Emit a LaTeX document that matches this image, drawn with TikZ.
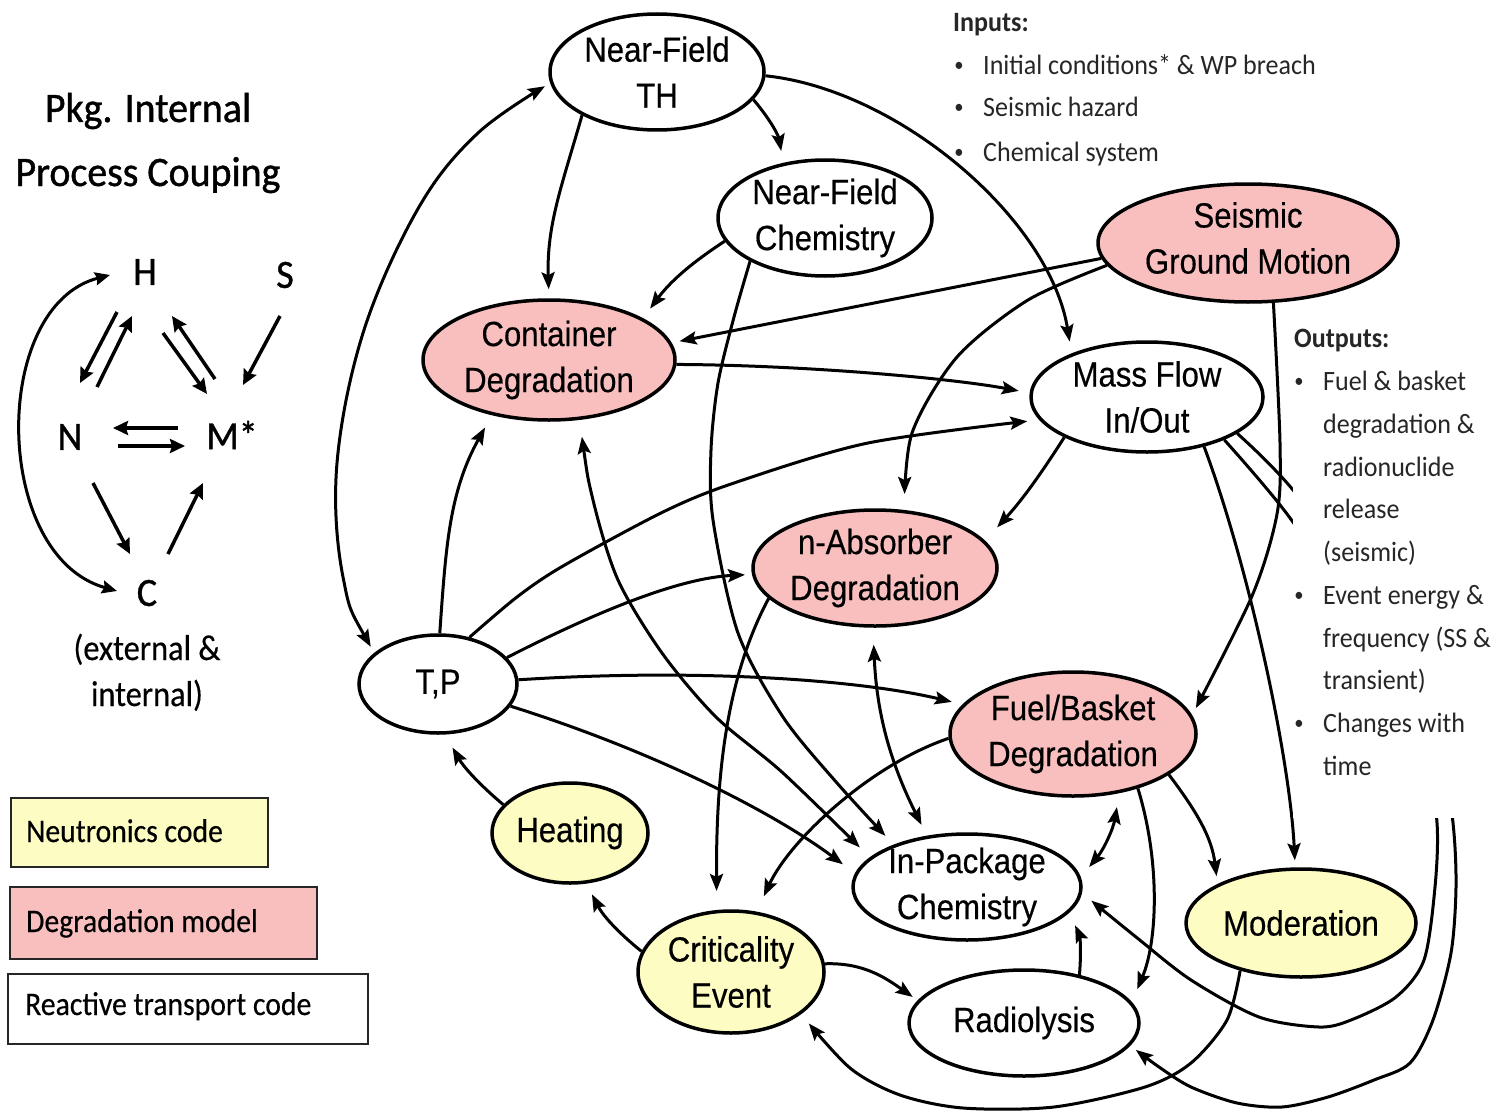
\documentclass[tikz,border=0pt]{standalone}
\usepackage{fontspec}
\usetikzlibrary{arrows.meta,shapes.geometric}
\newfontfamily\arialn[FakeStretch=0.89,FakeBold=0.4]{Liberation Sans}
\newfontfamily\calibA[FakeStretch=0.93]{Carlito}
\newfontfamily\calibB[FakeStretch=0.95,FakeBold=1.0]{Carlito}
\newfontfamily\calibC[FakeStretch=0.90,FakeBold=0.4]{Carlito}
\definecolor{pinkf}{RGB}{249,191,191}
\definecolor{yelf}{RGB}{253,252,194}
\begin{document}
\begin{tikzpicture}[x=1pt,y=-1pt,
  ell/.style={ellipse, draw=black, line width=3.5pt, inner sep=0pt},
  ntext/.style={font=\arialn\fontsize{35}{46}\selectfont, align=center, inner sep=0pt},
  con/.style={line width=3pt, -{Stealth[length=17pt,width=13pt,inset=3pt]}},
  dcon/.style={line width=3pt, {Stealth[length=17pt,width=13pt,inset=3pt]}-{Stealth[length=17pt,width=13pt,inset=3pt]}},
  mcon/.style={line width=3.5pt, -{Stealth[length=15pt,width=14pt,inset=2pt]}},
  mdcon/.style={line width=3pt, {Stealth[length=15pt,width=13pt,inset=2pt]}-{Stealth[length=15pt,width=13pt,inset=2pt]}},
  titlef/.style={font=\calibB\fontsize{42}{50}\selectfont, inner sep=0pt},
  minif/.style={font=\calibB\fontsize{40}{48}\selectfont, inner sep=0pt},
  capf/.style={font=\calibC\fontsize{36}{44}\selectfont, inner sep=0pt},
  legbox/.style={draw=black!85, line width=2pt, inner sep=0pt},
  legf/.style={font=\calibC\fontsize{33}{40}\selectfont, inner sep=0pt},
  iof/.style={font=\calibA\fontsize{28}{34}\selectfont, inner sep=0pt, text=black!85},
  bulf/.style={font=\calibA\fontsize{20}{24}\selectfont, inner sep=0pt, text=black!85}
]
\useasboundingbox (0,0) rectangle (1496,1113);
\fill[white] (0,0) rectangle (1496,1113);

% ---------- left panel ----------
\node[titlef, anchor=base] (t1) at (148,122) {Pkg. Internal};
\node[titlef, anchor=base] (t2) at (148,186) {Process Couping};

\node[minif] (H) at (145,272) {H};
\node[minif] (S) at (285,275) {S};
\node[minif] (N) at (70,437) {N};
\node[minif] (M) at (232,435) {M*};
\node[minif] (C) at (147,593) {C};
\node[capf, anchor=base] (ext1) at (147,660) {(external \&};
\node[capf, anchor=base] (ext2) at (147,706) {internal)};

\draw[mcon] ([shift={(-28,40)}]H.center) -- ([shift={(10,-54)}]N.center);
\draw[mcon] ([shift={(27,-50)}]N.center) -- ([shift={(-13,44)}]H.center);
\draw[mcon] ([shift={(18,61)}]H.center) -- ([shift={(-25,-41)}]M.center);
\draw[mcon] ([shift={(-17,-56)}]M.center) -- ([shift={(27,44)}]H.center);
\draw[mcon] ([shift={(-5,41)}]S.center) -- ([shift={(11,-50)}]M.center);
\draw[mcon] ([shift={(-54,-7)}]M.center) -- ([shift={(43,-9)}]N.center);
\draw[mcon] ([shift={(48,9)}]N.center) -- ([shift={(-47,11)}]M.center);
\draw[mcon] ([shift={(23,46)}]N.center) -- ([shift={(-17,-39)}]C.center);
\draw[mcon] ([shift={(21,-39)}]C.center) -- ([shift={(-29,48)}]M.center);
\draw[mdcon] ([shift={(-35,3)}]H.center) .. controls (-10,306) and (-8,556) .. ([shift={(-30,-2)}]C.center);

% legend
\node[legbox, fill=yelf, minimum width=257pt, minimum height=69pt, anchor=north west] (lgN) at (10,797) {};
\node[legf, anchor=base west] (lgNt) at (26,842) {Neutronics code};
\node[legbox, fill=pinkf, minimum width=307pt, minimum height=72pt, anchor=north west] (lgD) at (9,886) {};
\node[legf, anchor=base west] (lgDt) at (26,932) {Degradation model};
\node[legbox, fill=white, minimum width=360pt, minimum height=70pt, anchor=north west] (lgR) at (7,973) {};
\node[legf, anchor=base west] (lgRt) at (25,1015) {Reactive transport code};

% ---------- inputs ----------
\node[iof, anchor=base west] (inh) at (953,32) {\bfseries Inputs:};
\node[bulf, anchor=base] (ib1) at (959,72) {\textbullet};
\node[iof, anchor=base west] (it1) at (983,75) {Initial conditions* \& WP breach};
\node[bulf, anchor=base] (ib2) at (959,114) {\textbullet};
\node[iof, anchor=base west] (it2) at (983,117) {Seismic hazard};
\node[bulf, anchor=base] (ib3) at (959,158) {\textbullet};
\node[iof, anchor=base west] (it3) at (983,161) {Chemical system};

% ---------- process nodes ----------
\node[ell, fill=white, minimum width=214pt, minimum height=116pt] (nfth) at (657,72) {};
\node[ell, fill=white, minimum width=214pt, minimum height=116pt] (nfch) at (825,218) {};
\node[ell, fill=pinkf, minimum width=300pt, minimum height=118pt] (seis) at (1248,243) {};
\node[ell, fill=pinkf, minimum width=252pt, minimum height=120pt] (cont) at (549,360) {};
\node[ell, fill=white, minimum width=232pt, minimum height=110pt] (mass) at (1147,397) {};
\node[ell, fill=pinkf, minimum width=244pt, minimum height=116pt] (nabs) at (875,568) {};
\node[ell, fill=white, minimum width=158pt, minimum height=98pt] (tp) at (438,684) {};
\node[ell, fill=pinkf, minimum width=246pt, minimum height=124pt] (fuel) at (1073,734) {};
\node[ell, fill=yelf, minimum width=156pt, minimum height=100pt] (heat) at (570,833) {};
\node[ell, fill=white, minimum width=228pt, minimum height=106pt] (inpk) at (967,887) {};
\node[ell, fill=yelf, minimum width=230pt, minimum height=108pt] (moder) at (1301,923) {};
\node[ell, fill=yelf, minimum width=186pt, minimum height=122pt] (crit) at (731,972) {};
\node[ell, fill=white, minimum width=230pt, minimum height=106pt] (radio) at (1024,1023) {};

\node[ntext] (nfthT) at (nfth) {Near-Field\\TH};
\node[ntext] (nfchT) at (nfch) {Near-Field\\Chemistry};
\node[ntext] (seisT) at ([shift={(0,-5)}]seis.center) {Seismic\\Ground Motion};
\node[ntext] (contT) at (cont) {Container\\Degradation};
\node[ntext] (massT) at (mass) {Mass Flow\\In/Out};
\node[ntext] (nabsT) at (nabs) {n-Absorber\\Degradation};
\node[ntext] (tpT) at (tp) {T,P};
\node[ntext] (fuelT) at (fuel) {Fuel/Basket\\Degradation};
\node[ntext] (heatT) at (heat) {Heating};
\node[ntext] (inpkT) at (inpk) {In-Package\\Chemistry};
\node[ntext] (moderT) at (moder) {Moderation};
\node[ntext] (critT) at (crit) {Criticality\\Event};
\node[ntext] (radioT) at (radio) {Radiolysis};

% ---------- connectors ----------
\draw[dcon, shorten <=7pt, shorten >=6pt] plot[smooth, tension=0.6] coordinates {(tp.154) (343,577) (337,463) (364,330) (419,207) (478,133) (nfth.186)};
\draw[con, shorten >=9pt] (nfth.210) to[out=254,in=92] (cont.90);
\draw[con, shorten >=12pt] (nfth.344) to[bend left=15] (nfch.127);
\draw[con, shorten >=12pt] (nfth.358) .. controls (900,90) and (1050,220) .. (mass.150);
\draw[con, shorten >=12pt] (nfch.193) to[bend right=10] (cont.24);
\draw[con, shorten >=12pt] plot[smooth] coordinates {(nfch.210) (734,317) (718,383) (711,450) (713,520) (738,633) (783,717) (837,783) (inpk.150)};
\draw[con, shorten >=8pt] (seis.186) -- (cont.8);
\draw[con, shorten >=16pt] plot[smooth] coordinates {(seis.189) (1028,300) (957,357) (912,433) (nabs.63)};
\draw[con, shorten >=8pt] plot[smooth] coordinates {(seis.293) (1280,443) (1277,514) (1252,596) (fuel.9)};
\draw[con, shorten >=11pt] (cont.358) .. controls (800,365) and (950,378) .. (mass.178);
\draw[con, shorten >=12pt] plot[smooth] coordinates {(tp.56) (517,597) (563,566) (663,512) (734,483) (868,443) (mass.192)};
\draw[con, shorten >=14pt] (tp.88) to[out=86,in=241] (cont.224);
\draw[con, shorten >=7pt] (tp.21) .. controls (600,610) and (680,578) .. (nabs.183);
\draw[con, shorten >=11pt] (tp.3) .. controls (700,668) and (860,680) .. (fuel.165);
\draw[con, shorten >=15pt] (tp.343) .. controls (650,750) and (770,810) .. (inpk.173);
\draw[con, shorten >=15pt] (heat.157) to[bend left=10] (tp.278);
\draw[con, shorten >=12pt] (crit.167) to[bend left=12] (heat.288);
\draw[con, shorten >=19pt] (nabs.196) .. controls (725,680) and (716,780) .. (crit.103);
\draw[con, shorten >=17pt] (fuel.182) .. controls (870,765) and (790,840) .. (crit.67);
\draw[con, shorten >=18pt] (mass.206) to[bend left=5] (nabs.14);
\draw[con, shorten >=7pt] (mass.319) .. controls (1250,570) and (1290,760) .. (moder.96);
\draw[con, shorten >=12pt] plot[smooth] coordinates {(mass.331) (1290,518) (1370,640) (1425,750) (1437,823) (1435,887) (1424,960) (1396,997) (1351,1020) (1319,1027) (1259,1017) (1191,980) (1136,937) (inpk.357)};
\draw[con, shorten >=7pt] plot[smooth] coordinates {(mass.338) (1293,490) (1390,620) (1440,740) (1453,823) (1456,887) (1451,953) (1433,1020) (1410,1063) (1374,1080) (1328,1097) (1282,1107) (1237,1103) (1191,1087) (1159,1067) (radio.348)};
\draw[con, shorten >=8pt] (fuel.337) to[out=307,in=97] (moder.155);
\draw[con, shorten >=14pt] (fuel.320) .. controls (1160,860) and (1158,940) .. (radio.11);
\draw[dcon, shorten <=13pt, shorten >=14pt] (inpk.5) to[bend right=15] (fuel.308);
\draw[dcon, shorten <=17pt, shorten >=12pt] (nabs.268) to[bend right=12] (inpk.128);
\draw[con, shorten >=6pt] (crit.5) to[out=2,in=145] (radio.168);
\draw[con, shorten >=14pt] (radio.41) to[out=85,in=-66] (inpk.346);
\draw[con, shorten >=12pt] plot[smooth] coordinates {(moder.218) (1227,1020) (1191,1063) (1145,1087) (1054,1107) (963,1108) (900,1095) (850,1068) (crit.329)};
\draw[dcon, shorten <=17pt, shorten >=14pt] plot[smooth] coordinates {(cont.297) (593,500) (618,580) (662,653) (716,717) (783,773) (inpk.163)};

% ---------- outputs ----------
\fill[white] (1293,316) rectangle (1496,818);
\node[iof, anchor=base west] (outh) at (1294,347) {\bfseries Outputs:};
\node[bulf, anchor=base] (ob1) at (1299,387) {\textbullet};
\node[bulf, anchor=base] (ob2) at (1299,601) {\textbullet};
\node[bulf, anchor=base] (ob3) at (1299,729) {\textbullet};
\node[iof, anchor=base west] (o1) at (1323,390) {Fuel \& basket};
\node[iof, anchor=base west] (o2) at (1323,433) {degradation \&};
\node[iof, anchor=base west] (o3) at (1323,476) {radionuclide};
\node[iof, anchor=base west] (o4) at (1323,518) {release};
\node[iof, anchor=base west] (o5) at (1323,561) {(seismic)};
\node[iof, anchor=base west] (o6) at (1323,604) {Event energy \&};
\node[iof, anchor=base west] (o7) at (1323,647) {frequency (SS \&};
\node[iof, anchor=base west] (o8) at (1323,689) {transient)};
\node[iof, anchor=base west] (o9) at (1323,732) {Changes with};
\node[iof, anchor=base west] (o10) at (1323,775) {time};
\end{tikzpicture}
\end{document}
